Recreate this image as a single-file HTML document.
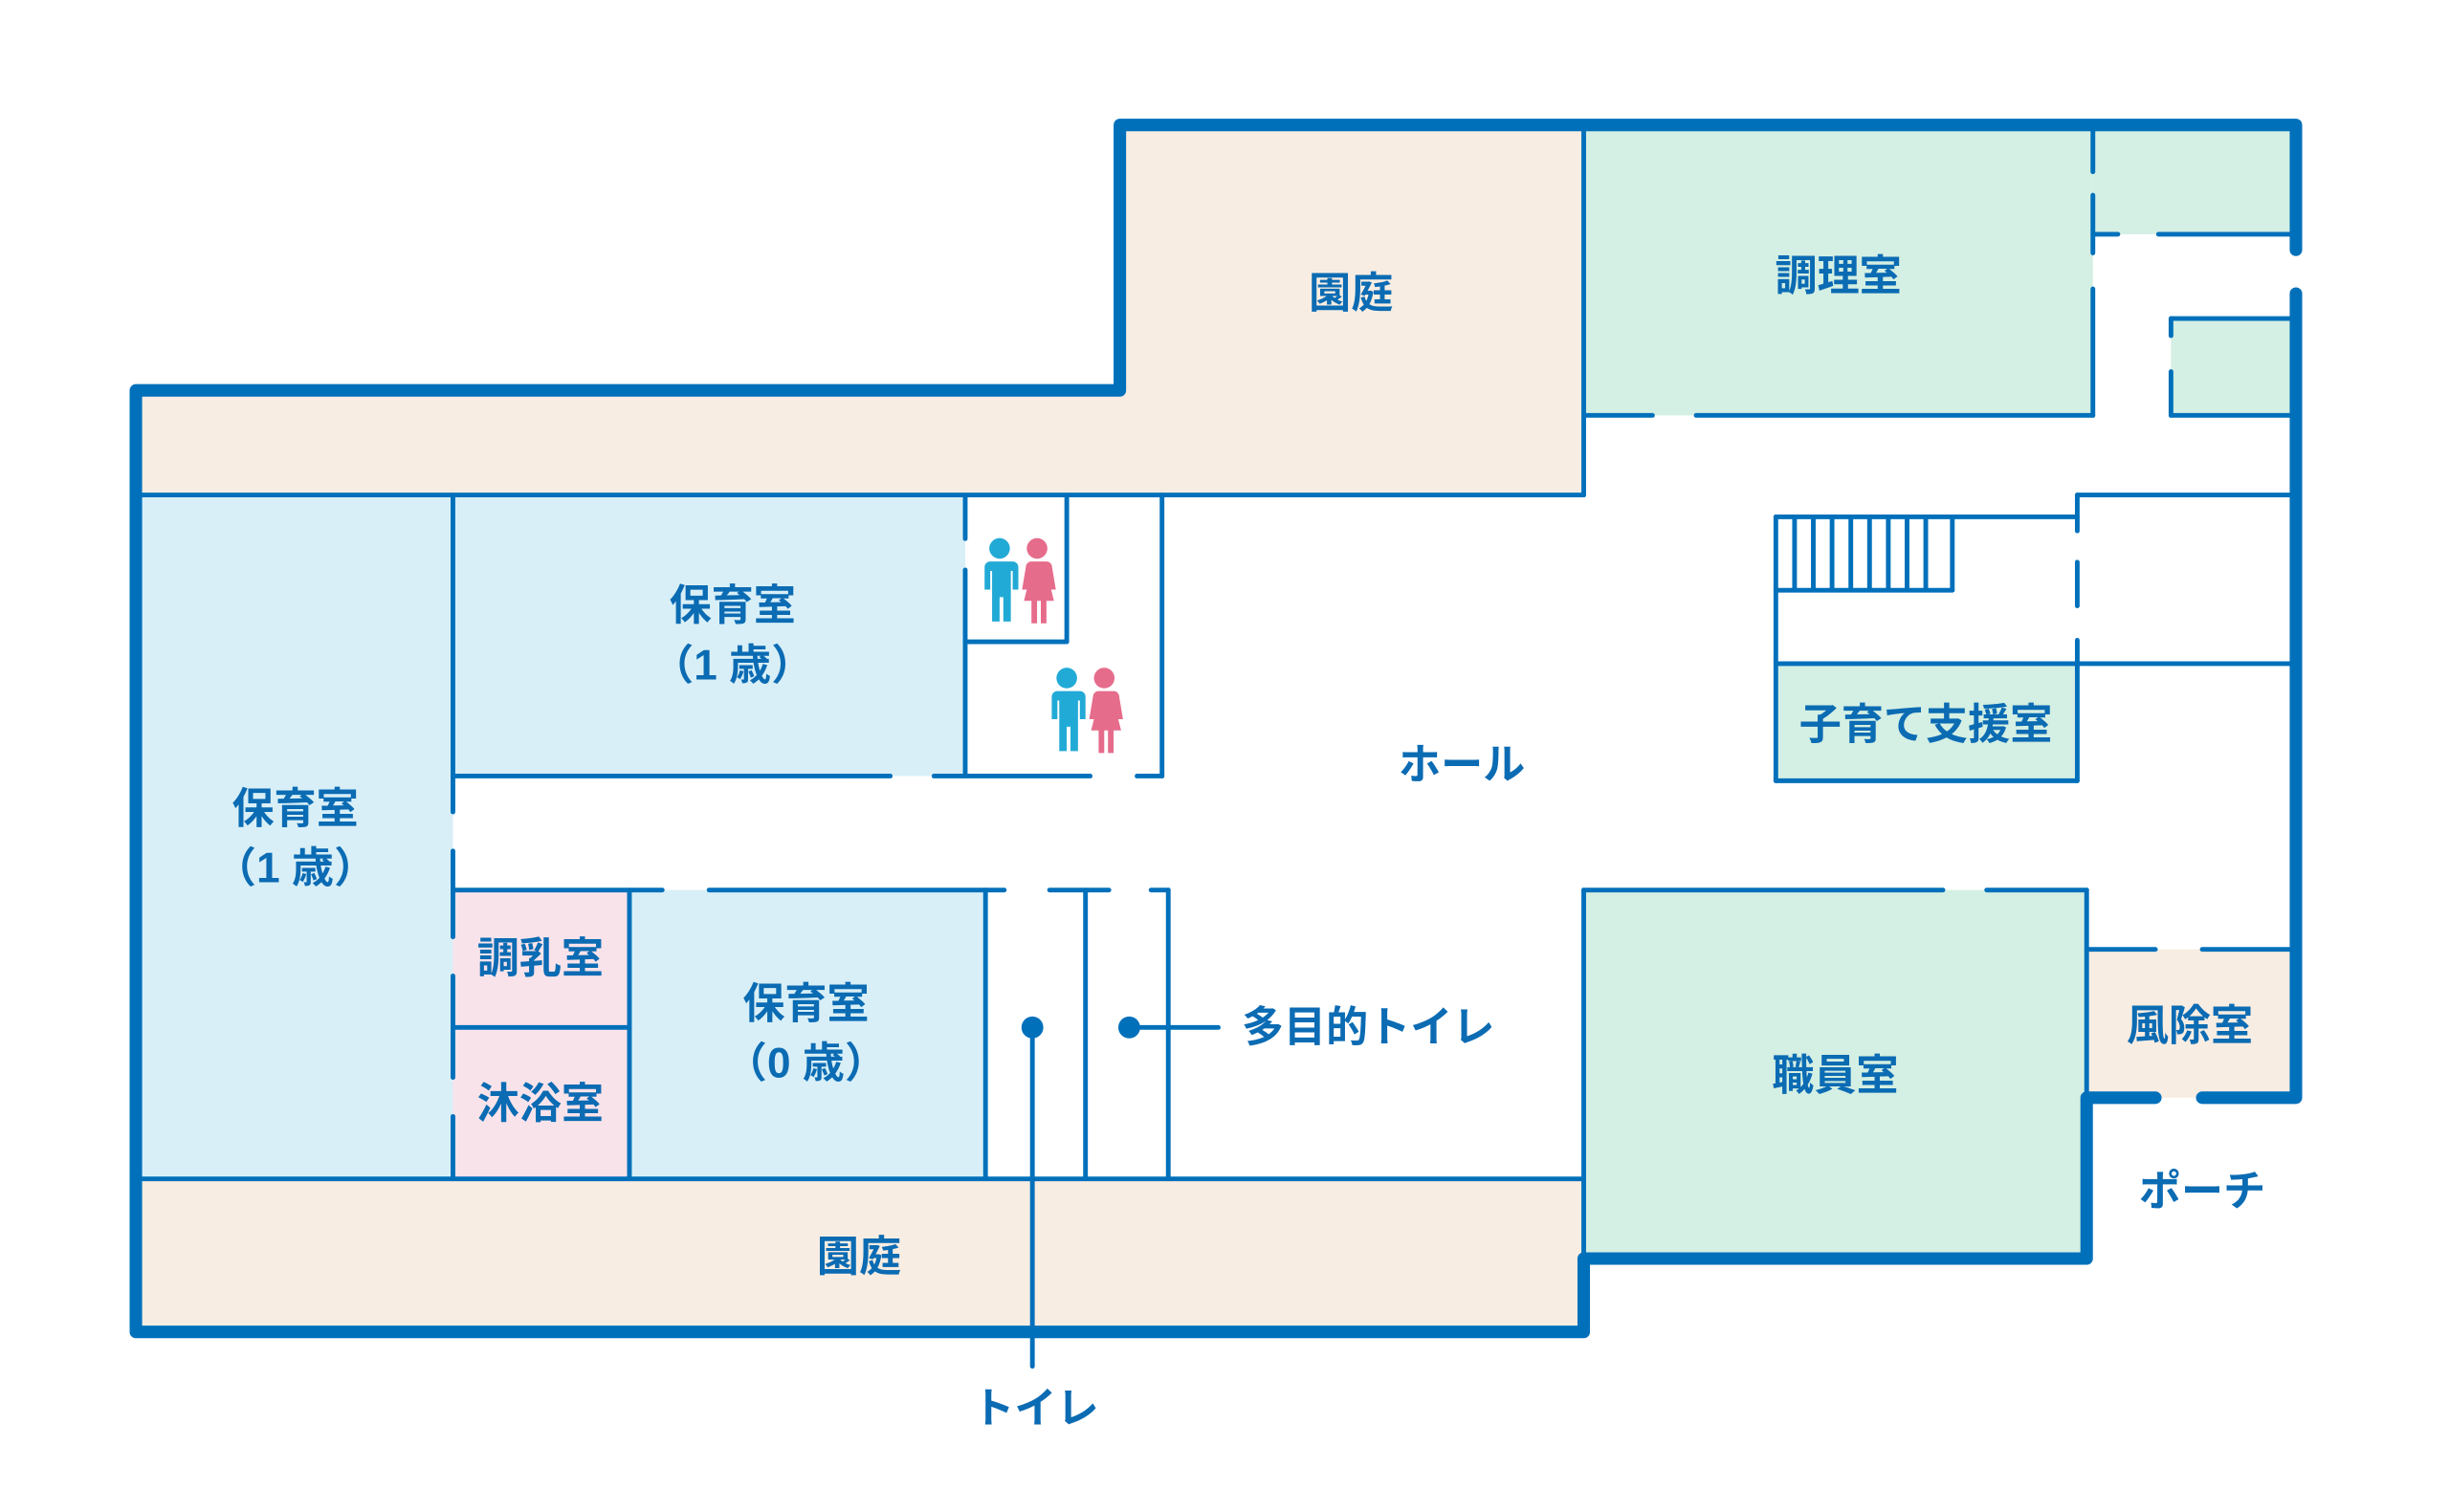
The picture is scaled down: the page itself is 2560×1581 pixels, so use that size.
<!DOCTYPE html>
<html><head><meta charset="utf-8"><style>
html,body{margin:0;padding:0;background:#fff;}
svg{display:block;}
text{font-family:"Liberation Sans","Noto Sans CJK JP",sans-serif;font-weight:bold;fill:#0b6bb3;font-size:27px;text-anchor:middle;}
</style></head><body>
<svg width="2560" height="1581" viewBox="0 0 1568 968.3" xmlns="http://www.w3.org/2000/svg">
<defs>
<g id="boy" fill="#22aad6"><circle cx="0" cy="-14" r="5.5"/><path d="M-7,-7 h14 a3,3 0 0 1 3,3 v12 h-3 v-10 h-1 v27 h-4 v-13 h-2 v13 h-4 v-27 h-1 v10 h-3 v-12 a3,3 0 0 1 3,-3z"/></g>
<g id="girl" fill="#e66c8c"><circle cx="0" cy="-14" r="5.5"/><path d="M-5,-7 h10 a3,3 0 0 1 3,3 l2,12 h-3 l-1,-6 l3,12 h-4 v12 h-3 v-12 h-2 v12 h-3 v-12 h-4 l3,-12 l-1,6 h-3 l2,-12 a3,3 0 0 1 3,-3z"/></g>
</defs>
<g stroke="none">
<polygon fill="#f8ede2" points="87,250 717,250 717,80 1014,80 1014,317 87,317"/>
<rect fill="#d4efe3" x="1014" y="80" width="326" height="186"/>
<rect fill="#d4efe3" x="1340" y="80" width="130" height="70"/>
<rect fill="#d4efe3" x="1390" y="204" width="77" height="62"/>
<rect fill="#d8eff7" x="87" y="317" width="203" height="438"/>
<rect fill="#d8eff7" x="290" y="317" width="328" height="180"/>
<rect fill="#f9e3ea" x="290" y="570" width="113" height="185"/>
<rect fill="#d8eff7" x="403" y="570" width="228" height="185"/>
<rect fill="#f8ede2" x="87" y="755" width="927" height="98"/>
<rect fill="#d4efe3" x="1137" y="425" width="193" height="75"/>
<rect fill="#d4efe3" x="1014" y="570" width="322" height="236"/>
<rect fill="#f8ede2" x="1336" y="608" width="131" height="95"/>
</g>
<g stroke="#0070bb" stroke-width="3" fill="none" stroke-linecap="round">
<line x1="87" y1="317" x2="1014" y2="317"/>
<line x1="1014" y1="80" x2="1014" y2="317"/>
<line x1="1014" y1="266" x2="1058" y2="266"/>
<line x1="1086" y1="266" x2="1340" y2="266"/>
<line x1="1340" y1="80" x2="1340" y2="110"/>
<line x1="1340" y1="125" x2="1340" y2="162"/>
<line x1="1340" y1="185" x2="1340" y2="266"/>
<line x1="1340" y1="150" x2="1356" y2="150"/>
<line x1="1382" y1="150" x2="1467" y2="150"/>
<line x1="1390" y1="204" x2="1467" y2="204"/>
<line x1="1390" y1="204" x2="1390" y2="215"/>
<line x1="1390" y1="238" x2="1390" y2="266"/>
<line x1="1390" y1="266" x2="1467" y2="266"/>
<line x1="1330" y1="317" x2="1467" y2="317"/>
<line x1="1330" y1="317" x2="1330" y2="340"/>
<line x1="1330" y1="360" x2="1330" y2="388"/>
<line x1="1330" y1="410" x2="1330" y2="500"/>
<line x1="1137" y1="331" x2="1330" y2="331"/>
<line x1="1137" y1="331" x2="1137" y2="500"/>
<line x1="1137" y1="378" x2="1250" y2="378"/>
<line x1="1250" y1="331" x2="1250" y2="378"/>
<line x1="1137" y1="425" x2="1467" y2="425"/>
<line x1="1137" y1="500" x2="1330" y2="500"/>
<line x1="290" y1="317" x2="290" y2="520"/>
<line x1="290" y1="545" x2="290" y2="600"/>
<line x1="290" y1="625" x2="290" y2="690"/>
<line x1="290" y1="715" x2="290" y2="755"/>
<line x1="290" y1="497" x2="570" y2="497"/>
<line x1="598" y1="497" x2="698" y2="497"/>
<line x1="728" y1="497" x2="744" y2="497"/>
<line x1="618" y1="317" x2="618" y2="345"/>
<line x1="618" y1="365" x2="618" y2="497"/>
<line x1="618" y1="411" x2="683" y2="411"/>
<line x1="683" y1="317" x2="683" y2="411"/>
<line x1="744" y1="317" x2="744" y2="497"/>
<line x1="290" y1="570" x2="424" y2="570"/>
<line x1="454" y1="570" x2="643" y2="570"/>
<line x1="672" y1="570" x2="710" y2="570"/>
<line x1="737" y1="570" x2="748" y2="570"/>
<line x1="290" y1="658" x2="403" y2="658"/>
<line x1="403" y1="570" x2="403" y2="755"/>
<line x1="631" y1="570" x2="631" y2="755"/>
<line x1="695" y1="570" x2="695" y2="755"/>
<line x1="748" y1="570" x2="748" y2="755"/>
<line x1="87" y1="755" x2="1014" y2="755"/>
<line x1="1014" y1="570" x2="1014" y2="806"/>
<line x1="1014" y1="570" x2="1244" y2="570"/>
<line x1="1272" y1="570" x2="1336" y2="570"/>
<line x1="1336" y1="570" x2="1336" y2="703"/>
<line x1="1336" y1="608" x2="1380" y2="608"/>
<line x1="1410" y1="608" x2="1467" y2="608"/>
<line x1="661" y1="658" x2="661" y2="875"/>
<line x1="723" y1="658" x2="780" y2="658"/>
</g>
<g stroke="#0070bb" stroke-width="3">
<line x1="1149" y1="331" x2="1149" y2="378"/><line x1="1161" y1="331" x2="1161" y2="378"/><line x1="1173" y1="331" x2="1173" y2="378"/><line x1="1185" y1="331" x2="1185" y2="378"/><line x1="1197" y1="331" x2="1197" y2="378"/><line x1="1209" y1="331" x2="1209" y2="378"/><line x1="1221" y1="331" x2="1221" y2="378"/><line x1="1233" y1="331" x2="1233" y2="378"/>
</g>
<circle cx="661" cy="658" r="7" fill="#0070bb"/>
<circle cx="723" cy="658" r="7" fill="#0070bb"/>
<g stroke="#0070bb" stroke-width="8" fill="none" stroke-linecap="round" stroke-linejoin="round">
<polyline points="1470,160 1470,80 717,80 717,250 87,250 87,853 1014,853 1014,806 1336,806 1336,703 1380,703"/>
<polyline points="1410,703 1470,703 1470,188"/>
</g>
<use href="#boy" transform="translate(640,368) scale(1.2)"/>
<use href="#girl" transform="translate(664,368) scale(1.2)"/>
<use href="#boy" transform="translate(683,451) scale(1.2)"/>
<use href="#girl" transform="translate(707,451) scale(1.2)"/>
<text x="865" y="197">園庭</text>
<text x="1177" y="186">調理室</text>
<text x="469" y="397">保育室</text>
<text x="469" y="435">（1 歳）</text>
<text x="189" y="527">保育室</text>
<text x="189" y="565">（1 歳）</text>
<text x="936" y="499">ホール</text>
<text x="1233" y="473">子育て支援室</text>
<text x="346" y="623">調乳室</text>
<text x="346" y="716">沐浴室</text>
<text x="516" y="652">保育室</text>
<text x="516" y="690">（0 歳）</text>
<text x="876" y="667">多目的トイレ</text>
<text x="1175" y="698">職員室</text>
<text x="1402" y="666">風除室</text>
<text x="1410" y="772">ポーチ</text>
<text x="550" y="814">園庭</text>
<text x="663" y="911">トイレ</text>
</svg>
</body></html>
